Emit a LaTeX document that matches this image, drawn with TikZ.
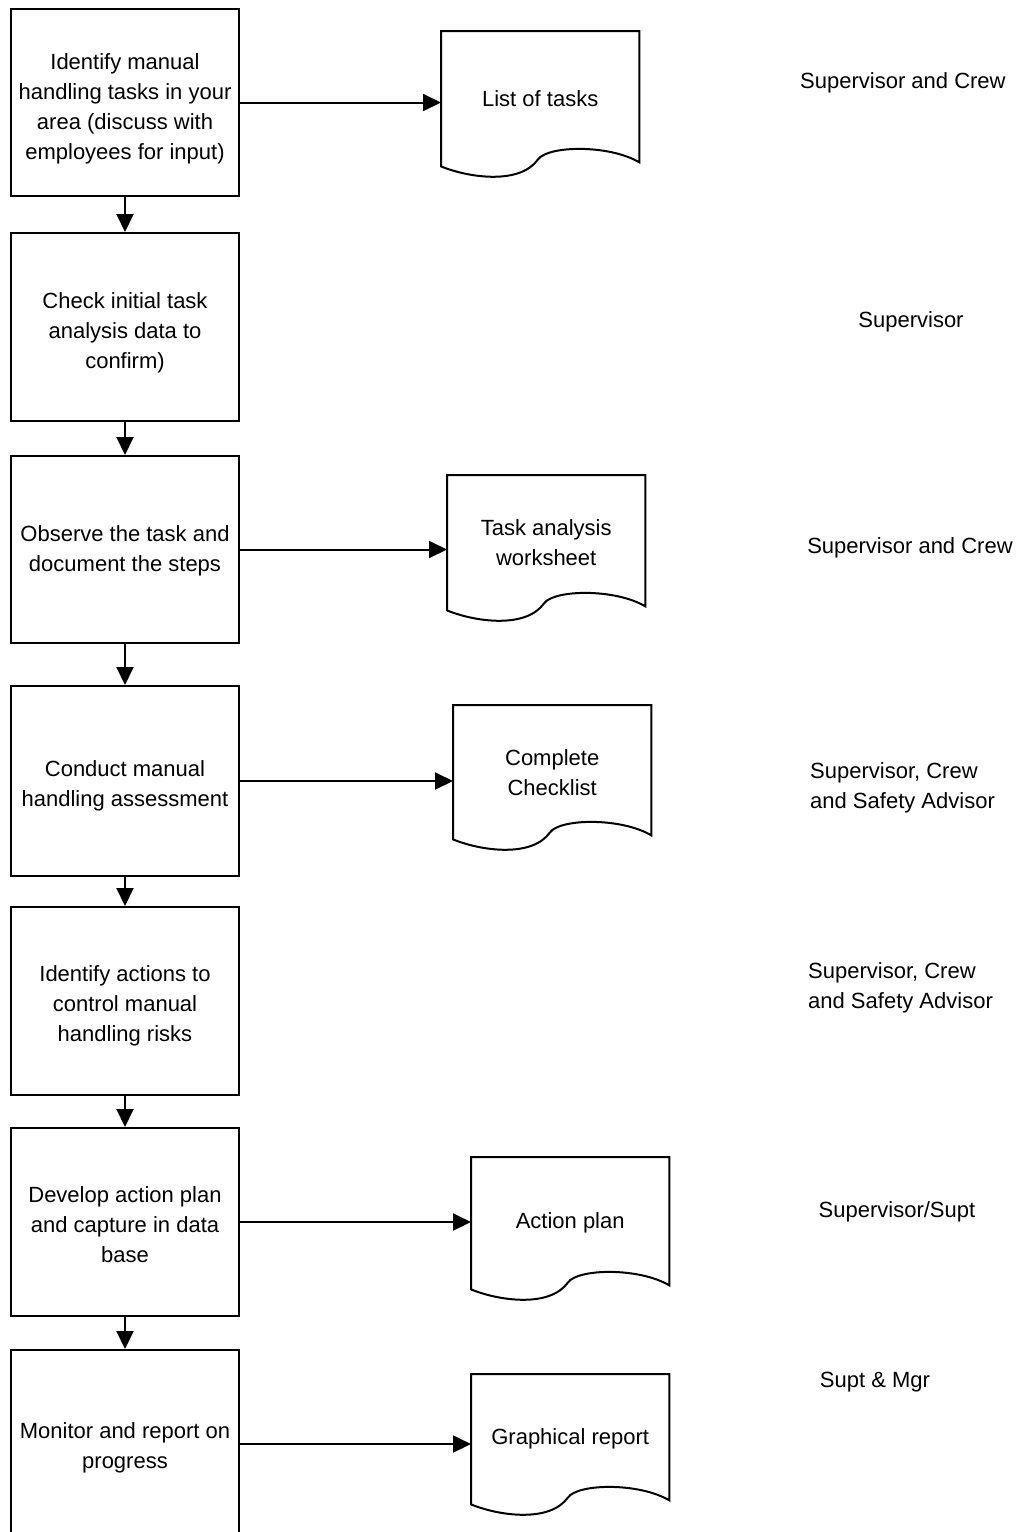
\documentclass[tikz,border=0pt]{standalone}
\usepackage{fontspec}
\setmainfont{Liberation Sans}
\usetikzlibrary{arrows.meta,calc}
\newcommand\docshape[1]{%
  \draw[docline] (#1.south west) -- (#1.north west) -- (#1.north east) -- ($(#1.south east)+(0,-4)$)
    .. controls ($(#1.south west)+(168.3,-22)$) and ($(#1.south west)+(107,-21)$) .. ($(#1.south west)+(97,-7)$)
    .. controls ($(#1.south west)+(79.2,18)$) and ($(#1.south west)+(29.7,12)$) .. (#1.south west) -- cycle;}
\begin{document}
\begin{tikzpicture}[x=1pt,y=-1pt,
  every node/.style={font=\fontsize{22}{30}\selectfont},
  stepbox/.style={draw, line width=2pt, minimum width=228pt, inner sep=0pt},
  steptext/.style={align=center, inner sep=0pt},
  docbox/.style={minimum width=198pt, anchor=north west, align=center, inner sep=0pt},
  roletext/.style={align=left, inner sep=0pt},
  arr/.style={line width=2pt, -{Triangle[length=18pt,width=17pt]}},
  docline/.style={line width=2pt, line join=miter}]
\useasboundingbox (0,0) rectangle (1021,1532);
\fill[white] (0,0) rectangle (1021,1532);
\clip (0,0) rectangle (1021,1532);

% process steps
\node[stepbox, minimum height=187pt] (b1) at (125,102.5) {};
\node[stepbox, minimum height=188pt] (b2) at (125,327) {};
\node[stepbox, minimum height=187pt] (b3) at (125,549.5) {};
\node[stepbox, minimum height=190pt] (b4) at (125,781) {};
\node[stepbox, minimum height=188pt] (b5) at (125,1001) {};
\node[stepbox, minimum height=188pt] (b6) at (125,1222) {};
\node[stepbox, minimum height=188pt] (b7) at (125,1444) {};
\node[steptext] (t1) at ([yshift=-6pt]b1.center) {Identify manual\\handling tasks in your\\area (discuss with\\employees for input)};
\node[steptext] (t2) at ([yshift=-6pt]b2.center) {Check initial task\\analysis data to\\confirm)};
\node[steptext] (t3) at ([yshift=-1pt]b3.center) {Observe the task and\\document the steps};
\node[steptext] (t4) at ([yshift=-5pt]b4.center) {Conduct manual\\handling assessment};
\node[steptext] (t5) at ([yshift=-5pt]b5.center) {Identify actions to\\control manual\\handling risks};
\node[steptext] (t6) at ([yshift=-3pt]b6.center) {Develop action plan\\and capture in data\\base};
\node[steptext] (t7) at ([yshift=-4pt]b7.center) {Monitor and report on\\progress};

% documents
\node[docbox, minimum height=135pt] (d1) at (441,31) {List of tasks};
\node[docbox, minimum height=135pt] (d2) at (447,475) {Task analysis\\worksheet};
\node[docbox, minimum height=134pt] (d3) at (453,705) {Complete\\Checklist};
\node[docbox, minimum height=132pt] (d4) at (471,1157) {Action plan};
\node[docbox, minimum height=130pt] (d5) at (471,1374) {Graphical report};
\docshape{d1}
\docshape{d2}
\docshape{d3}
\docshape{d4}
\docshape{d5}

% roles
\node[roletext, anchor=west] (r1) at (800,83) {Supervisor and Crew};
\node[roletext] (r2) at (911,322) {Supervisor};
\node[roletext] (r3) at (910,548) {Supervisor and Crew};
\node[roletext, anchor=west] (r4) at (810,787.5) {Supervisor, Crew\\and Safety Advisor};
\node[roletext, anchor=west] (r5) at (808,988) {Supervisor, Crew\\and Safety Advisor};
\node[roletext] (r6) at (897,1212) {Supervisor/Supt};
\node[roletext] (r7) at (875,1382) {Supt \& Mgr};

% vertical flow
\draw[arr] (b1.south) -- (b2.north);
\draw[arr] (b2.south) -- (b3.north);
\draw[arr] (b3.south) -- (b4.north);
\draw[arr] (b4.south) -- (b5.north);
\draw[arr] (b5.south) -- (b6.north);
\draw[arr] (b6.south) -- (b7.north);

% outputs
\draw[arr] (b1.east) -- (b1.east -| d1.west);
\draw[arr] (b3.east) -- (b3.east -| d2.west);
\draw[arr] (b4.east) -- (b4.east -| d3.west);
\draw[arr] (b6.east) -- (b6.east -| d4.west);
\draw[arr] (b7.east) -- (b7.east -| d5.west);
\end{tikzpicture}
\end{document}
